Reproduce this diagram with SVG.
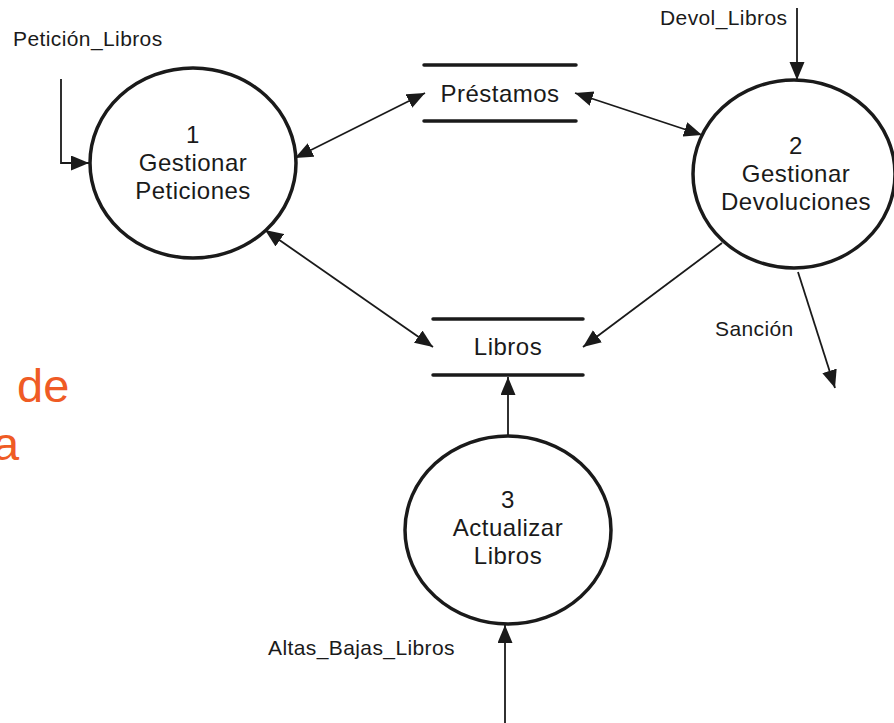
<svg xmlns="http://www.w3.org/2000/svg" width="894" height="723" viewBox="0 0 894 723">
  <style>
    .proc { fill: #fff; stroke: #1a1a1a; stroke-width: 3.5; }
    .store { stroke: #1a1a1a; stroke-width: 3.5; stroke-linecap: round; }
    .flow { fill: none; stroke: #1a1a1a; stroke-width: 1.8; }
    .ntext { font-family: "Liberation Sans", Arial, sans-serif; font-size: 24px; letter-spacing: 0.5px; fill: #1a1a1a; text-anchor: middle; }
    .ltext { font-family: "Liberation Sans", Arial, sans-serif; font-size: 21px; letter-spacing: 0.4px; fill: #1a1a1a; }
    .orange { font-family: "Liberation Sans", Arial, sans-serif; font-size: 47px; fill: #ef5b25; }
  </style>
  <defs>
    <marker id="arrow" markerUnits="userSpaceOnUse" markerWidth="20" markerHeight="16" refX="18" refY="7.5" orient="auto-start-reverse">
      <path d="M0,0 L18,7.5 L0,15 Z" fill="#1a1a1a"/>
    </marker>
  </defs>

  <rect width="894" height="723" fill="#fff"/>

  <!-- partial title text running off the left edge -->
  <text class="orange" x="17" y="402">de</text>
  <text class="orange" x="-7" y="460">a</text>

  <!-- connectors -->
  <g id="connectors">
    <polyline class="flow" points="61,79 61,163 89,163" marker-end="url(#arrow)"/>
    <line class="flow" x1="295" y1="158" x2="425" y2="93" marker-start="url(#arrow)" marker-end="url(#arrow)"/>
    <line class="flow" x1="575" y1="93" x2="702" y2="135" marker-start="url(#arrow)" marker-end="url(#arrow)"/>
    <line class="flow" x1="265" y1="230" x2="433" y2="347" marker-start="url(#arrow)" marker-end="url(#arrow)"/>
    <line class="flow" x1="722" y1="243" x2="583" y2="347" marker-end="url(#arrow)"/>
    <line class="flow" x1="797" y1="8" x2="797" y2="80" marker-end="url(#arrow)"/>
    <line class="flow" x1="798" y1="272" x2="835" y2="388" marker-end="url(#arrow)"/>
    <line class="flow" x1="508" y1="435" x2="508" y2="377" marker-end="url(#arrow)"/>
    <line class="flow" x1="505" y1="723" x2="505" y2="625" marker-end="url(#arrow)"/>
    <text class="ltext" x="13" y="46">Petición_Libros</text>
    <text class="ltext" x="660" y="25">Devol_Libros</text>
    <text class="ltext" x="715" y="336">Sanción</text>
    <text class="ltext" x="268" y="655">Altas_Bajas_Libros</text>
  </g>

  <g id="proc1">
    <ellipse class="proc" cx="193" cy="163" rx="103" ry="95"/>
    <text class="ntext" x="193" y="143">1</text>
    <text class="ntext" x="193" y="171">Gestionar</text>
    <text class="ntext" x="193" y="199">Peticiones</text>
  </g>

  <g id="proc2">
    <ellipse class="proc" cx="794" cy="174" rx="101" ry="94"/>
    <text class="ntext" x="796" y="154">2</text>
    <text class="ntext" x="796" y="182">Gestionar</text>
    <text class="ntext" x="796" y="210">Devoluciones</text>
  </g>

  <g id="proc3">
    <ellipse class="proc" cx="508" cy="530" rx="103" ry="94"/>
    <text class="ntext" x="508" y="508">3</text>
    <text class="ntext" x="508" y="536">Actualizar</text>
    <text class="ntext" x="508" y="564">Libros</text>
  </g>

  <g id="store-prestamos">
    <line class="store" x1="424" y1="65" x2="576" y2="65"/>
    <line class="store" x1="424" y1="121" x2="576" y2="121"/>
    <text class="ntext" x="500" y="102">Préstamos</text>
  </g>

  <g id="store-libros">
    <line class="store" x1="433" y1="319" x2="583" y2="319"/>
    <line class="store" x1="433" y1="375" x2="583" y2="375"/>
    <text class="ntext" x="508" y="355">Libros</text>
  </g>
</svg>
